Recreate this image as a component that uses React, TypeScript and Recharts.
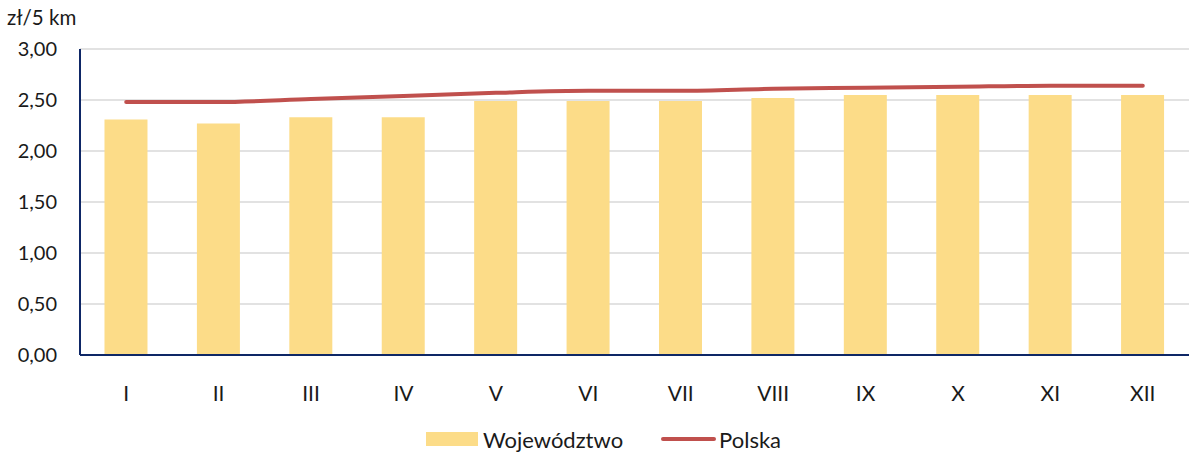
import React from 'react';
import { ComposedChart, Bar, Line, XAxis, YAxis, CartesianGrid, Legend } from 'recharts';

const months = ['I', 'II', 'III', 'IV', 'V', 'VI', 'VII', 'VIII', 'IX', 'X', 'XI', 'XII'];
const wojewodztwo = [2.31, 2.27, 2.33, 2.33, 2.49, 2.49, 2.49, 2.52, 2.55, 2.55, 2.55, 2.55];
const polska = [2.48, 2.48, 2.51, 2.54, 2.57, 2.59, 2.59, 2.61, 2.62, 2.63, 2.64, 2.64];
const yTicks = [0, 0.5, 1, 1.5, 2, 2.5, 3];

const data = months.map((m, i) => ({ month: m, woj: wojewodztwo[i], pl: polska[i] }));

const FONT = 'Lato, "Open Sans", sans-serif';
const BAR = '#FCDC88';
const LINE = '#C0504D';
const AXIS = '#0E2766';

const fmt = (v: number) => v.toFixed(2).replace('.', ',');

const LegendContent = () => (
  <div style={{ display: 'flex', justifyContent: 'center', alignItems: 'center', fontFamily: FONT, fontSize: 22, color: '#1a1a1a', height: 30, paddingLeft: 18 }}>
    <div style={{ display: 'flex', alignItems: 'center', marginRight: 38 }}>
      <span style={{ display: 'inline-block', width: 52, height: 14, background: BAR, marginRight: 5 }} />
      <span>Województwo</span>
    </div>
    <div style={{ display: 'flex', alignItems: 'center' }}>
      <svg width={55} height={10} style={{ marginRight: 3 }}>
        <line x1={2} y1={5} x2={53} y2={5} stroke={LINE} strokeWidth={4} strokeLinecap="round" />
      </svg>
      <span>Polska</span>
    </div>
  </div>
);

export default function App() {
  return (
    <div style={{ position: 'absolute', left: 0, top: 0, width: 1196, height: 454, background: '#fff' }}>
      <ComposedChart
        width={1196}
        height={454}
        data={data}
        margin={{ top: 49, right: 7, bottom: 0, left: 0 }}
        barCategoryGap="26.5%"
      >
        <CartesianGrid vertical={false} stroke="#D9D9D9" strokeWidth={1.5} />
        <XAxis
          dataKey="month"
          height={69}
          tickLine={false}
          tickSize={0}
          tickMargin={31}
          axisLine={{ stroke: AXIS, strokeWidth: 2 }}
          tick={{ fill: '#1a1a1a', fontSize: 21, fontFamily: FONT }}
          interval={0}
        />
        <YAxis
          width={80}
          domain={[0, 3]}
          ticks={yTicks}
          tickFormatter={fmt}
          tickLine={false}
          tickSize={0}
          tickMargin={23}
          axisLine={{ stroke: AXIS, strokeWidth: 2 }}
          tick={{ fill: '#1a1a1a', fontSize: 20, fontFamily: FONT }}
          label={{
            content: () => (
              <text x={7} y={25} fontSize={20.5} fontFamily={FONT} fill="#1a1a1a">zł/5 km</text>
            ),
          }}
        />
        <Legend verticalAlign="bottom" height={30} content={<LegendContent />} />
        <Bar dataKey="woj" name="Województwo" fill={BAR} isAnimationActive={false} />
        <Line
          dataKey="pl"
          name="Polska"
          type="monotone"
          stroke={LINE}
          strokeWidth={4}
          strokeLinecap="round"
          dot={false}
          activeDot={false}
          isAnimationActive={false}
        />
      </ComposedChart>
    </div>
  );
}
